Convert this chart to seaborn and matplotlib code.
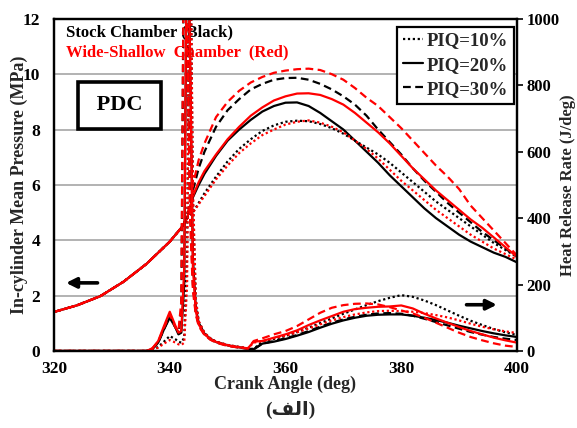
import numpy as np
import pandas as pd
import matplotlib
matplotlib.use('Agg')
import matplotlib.pyplot as plt
from matplotlib.lines import Line2D
import seaborn as sns

# crank angle grids (deg)
ca_comp = [320, 324, 328, 332, 336, 338, 340, 342, 343]
p_comp = [1.41, 1.65, 1.98, 2.5, 3.15, 3.55, 3.95, 4.45, 4.8]

ca_comb = [344, 345, 346, 348, 350, 352, 354, 356, 358, 360, 362, 364, 366, 368, 370,
           372, 374, 376, 378, 380, 382, 384, 386, 388, 390, 392, 394, 396, 398, 400]

# in-cylinder pressure after 343 deg (MPa)
p_stock_10 = [5.0, 5.35, 5.7, 6.3, 6.85, 7.3, 7.65, 7.95, 8.15, 8.28, 8.32, 8.3, 8.2, 8.05, 7.85,
              7.6, 7.35, 7.1, 6.8, 6.45, 6.1, 5.75, 5.4, 5.1, 4.8, 4.5, 4.2, 3.9, 3.65, 3.4]
p_stock_20 = [5.55, 6.0, 6.4, 7.05, 7.6, 8.0, 8.35, 8.65, 8.85, 8.97, 8.98, 8.85, 8.6, 8.3, 8.0,
              7.6, 7.2, 6.8, 6.35, 5.95, 5.55, 5.15, 4.8, 4.5, 4.2, 3.95, 3.75, 3.55, 3.4, 3.2]
p_stock_30 = [5.8, 6.6, 7.2, 8.1, 8.7, 9.1, 9.45, 9.65, 9.8, 9.86, 9.87, 9.8, 9.65, 9.45, 9.2,
              8.9, 8.5, 8.0, 7.55, 7.1, 6.6, 6.15, 5.75, 5.35, 5.0, 4.65, 4.3, 4.0, 3.7, 3.4]
p_ws_10 = [5.0, 5.3, 5.6, 6.2, 6.7, 7.15, 7.5, 7.8, 8.0, 8.18, 8.28, 8.33, 8.25, 8.1, 7.9,
           7.6, 7.3, 6.95, 6.55, 6.15, 5.8, 5.45, 5.1, 4.8, 4.5, 4.2, 3.95, 3.7, 3.5, 3.3]
p_ws_20 = [5.6, 6.1, 6.5, 7.1, 7.65, 8.1, 8.5, 8.8, 9.05, 9.2, 9.3, 9.31, 9.25, 9.1, 8.9,
           8.6, 8.25, 7.9, 7.5, 7.05, 6.6, 6.2, 5.8, 5.45, 5.1, 4.75, 4.45, 4.1, 3.75, 3.4]
p_ws_30 = [6.0, 6.9, 7.5, 8.45, 9.0, 9.4, 9.7, 9.9, 10.05, 10.13, 10.18, 10.2, 10.15, 10.0, 9.8,
           9.5, 9.15, 8.85, 8.45, 8.05, 7.6, 7.15, 6.7, 6.3, 5.85, 5.25, 4.8, 4.35, 3.9, 3.45]

# heat release rate (J/deg)
ca_hrr = [320, 336, 337, 338, 339, 340, 341, 341.5, 342, 342.5, 343, 343.5, 344, 344.5, 345,
          346, 347, 348, 350, 352, 353.5, 354.5, 356, 358, 360, 362, 364, 366, 368, 370,
          372, 374, 376, 378, 380, 382, 384, 386, 388, 390, 392, 394, 396, 398, 400]
hrr_stock_10 = [0, 0, 3, 12, 28, 45, 35, 28, 25, 40, 300, 1400, 450, 150, 88,
                54, 38, 28, 18, 12, 8, 6, 28, 36, 45, 57, 70, 84, 98, 112,
                125, 138, 150, 160, 168, 163, 152, 138, 122, 106, 91, 78, 66, 56, 48]
hrr_stock_20 = [0, 0, 6, 25, 65, 100, 70, 50, 55, 200, 1400, 900, 280, 130, 85,
                52, 37, 27, 17, 11, 7, 5, 22, 28, 36, 46, 57, 70, 82, 92,
                100, 106, 109, 110, 110, 106, 100, 93, 85, 76, 68, 60, 53, 47, 42]
hrr_stock_30 = [0, 0, 6, 25, 65, 105, 70, 55, 120, 1400, 1000, 450, 200, 115, 78,
                50, 35, 26, 16, 10, 7, 5, 22, 30, 38, 48, 60, 73, 85, 95,
                103, 109, 113, 114, 112, 106, 97, 87, 77, 67, 57, 49, 42, 37, 33]
hrr_ws_10 = [0, 0, 3, 10, 22, 33, 25, 20, 18, 25, 200, 1400, 500, 160, 90,
             55, 38, 28, 18, 12, 8, 25, 30, 38, 46, 56, 68, 80, 92, 102,
             110, 116, 120, 121, 120, 118, 114, 108, 101, 92, 82, 73, 65, 59, 54]
hrr_ws_20 = [0, 0, 8, 30, 75, 118, 75, 55, 60, 250, 1400, 900, 250, 120, 80,
             50, 36, 27, 17, 11, 8, 28, 30, 40, 50, 62, 78, 92, 105, 118,
             126, 130, 133, 134, 137, 128, 112, 98, 85, 72, 60, 50, 40, 32, 25]
hrr_ws_30 = [0, 0, 8, 28, 70, 110, 70, 60, 150, 1400, 1000, 400, 180, 110, 75,
             48, 34, 25, 15, 10, 7, 30, 38, 50, 60, 75, 95, 115, 130, 138,
             142, 143, 140, 132, 122, 113, 100, 85, 70, 55, 42, 32, 23, 16, 12]

piq_labels = ['PIQ=10%', 'PIQ=20%', 'PIQ=30%']
styles = [(0, (1, 1.2)), '-', (0, (3.5, 2))]

sns.set_style('white')
plt.rcParams['font.family'] = ['Liberation Serif', 'DejaVu Sans']
plt.rcParams['font.weight'] = 'bold'

fig = plt.figure(figsize=(5.77, 4.28), dpi=100)
ax = fig.add_axes([0.0936, 0.18, 0.8024, 0.776])
ax2 = ax.twinx()

series = [
    ('black', p_stock_10, hrr_stock_10, 0), ('black', p_stock_20, hrr_stock_20, 1),
    ('black', p_stock_30, hrr_stock_30, 2), ('red', p_ws_10, hrr_ws_10, 0),
    ('red', p_ws_20, hrr_ws_20, 1), ('red', p_ws_30, hrr_ws_30, 2),
]
for color, p, hrr, k in series:
    ca_p = ca_comp + ca_comb
    pp = p_comp + p
    sns.lineplot(x=ca_p, y=pp, ax=ax, color=color, linestyle=styles[k], lw=1.6,
                 estimator=None, sort=False)
    sns.lineplot(x=ca_hrr, y=hrr, ax=ax2, color=color, linestyle=styles[k], lw=1.6,
                 estimator=None, sort=False)

ax.set_xlim(320, 400)
ax.set_ylim(0, 12)
ax2.set_ylim(0, 1000)
ax.set_xticks([320, 340, 360, 380, 400])
ax.set_yticks([0, 2, 4, 6, 8, 10, 12])
ax2.set_yticks([0, 200, 400, 600, 800, 1000])

for y in [2, 4, 6, 8, 10]:
    ax.axhline(y, color='#a6a6a6', lw=1.2, zorder=0)

for a in (ax, ax2):
    for s in a.spines.values():
        s.set_color('black')
        s.set_linewidth(1.6)
    a.tick_params(labelsize=12.5, width=1.2, length=4, direction='out', colors='black')
ax.tick_params(axis='y', length=0, pad=10)
ax2.tick_params(axis='y', labelsize=12, pad=3)

ax.set_xlabel('Crank Angle (deg)', fontsize=13, fontweight='bold', labelpad=-1.5)
ax.set_ylabel('In-cylinder Mean Pressure (MPa)', fontsize=13, fontweight='bold', labelpad=-4)
ax2.set_ylabel('Heat Release Rate (J/deg)', fontsize=12, fontweight='bold', labelpad=0)

ax.text(322.0, 11.5, 'Stock Chamber (Black)', fontsize=12, fontweight='bold',
        color='black', va='center', zorder=5)
ax.text(322.0, 10.8, 'Wide-Shallow  Chamber  (Red)', fontsize=12, fontweight='bold',
        color='red', va='center', zorder=5)
ax.text(331.3, 8.88, ' PDC ', fontsize=16, fontweight='bold', ha='center', va='center',
        color='black', zorder=5,
        bbox=dict(boxstyle='square,pad=0.6', fc='white', ec='black', lw=2.6))

ax.annotate('', xy=(321.6, 2.46), xytext=(328.0, 2.46),
            arrowprops=dict(arrowstyle='-|>,head_length=0.6,head_width=0.3', color='black', lw=2.6))
ax.annotate('', xy=(397.0, 1.67), xytext=(390.8, 1.67),
            arrowprops=dict(arrowstyle='-|>,head_length=0.6,head_width=0.3', color='black', lw=2.6))

handles = [Line2D([0], [0], color='black', linestyle=styles[k], lw=1.6) for k in range(3)]
leg = ax2.legend(handles, piq_labels, loc='upper right', bbox_to_anchor=(1.0, 0.985),
                 prop={'family': 'Liberation Serif', 'weight': 'bold', 'size': 13.5},
                 frameon=True, fancybox=False, framealpha=1, edgecolor='black',
                 handlelength=1.1, handletextpad=0.2, borderpad=0.3, labelspacing=0.38,
                 borderaxespad=0.15)
leg.get_frame().set_linewidth(1.6)

fig.text(0.503, 0.042, '(\ufed2\ufedf\ufe8d)', fontsize=14, fontweight='bold',
         ha='center', va='center', family=['Liberation Serif', 'DejaVu Sans'])

fig.savefig('out.png', dpi=100)
